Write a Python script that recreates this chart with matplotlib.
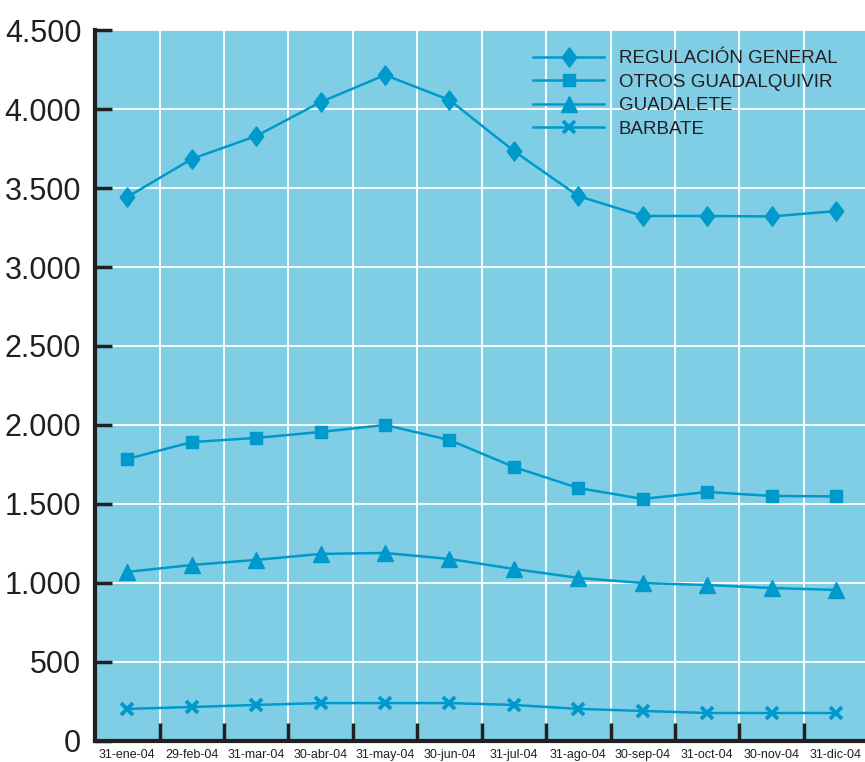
import numpy as np
import matplotlib.pyplot as plt
from matplotlib.ticker import FixedLocator, FuncFormatter

meses = ['31-ene-04', '29-feb-04', '31-mar-04', '30-abr-04', '31-may-04', '30-jun-04',
         '31-jul-04', '31-ago-04', '30-sep-04', '31-oct-04', '30-nov-04', '31-dic-04']

regulacion = [3443, 3684, 3829, 4044, 4215, 4057, 3734, 3449, 3323, 3323, 3320, 3354]
otros_guadalquivir = [1785, 1892, 1918, 1956, 2000, 1905, 1734, 1601, 1532, 1576, 1551, 1548]
guadalete = [1070, 1114, 1146, 1184, 1190, 1152, 1089, 1032, 1000, 987, 968, 956]
barbate = [203, 215, 228, 240, 240, 240, 228, 203, 190, 177, 177, 177]

plt.rcParams['font.family'] = ['Liberation Sans', 'DejaVu Sans']

azul = '#0099cc'
fondo = '#80cee6'
texto = '#231f20'

fig = plt.figure(figsize=(8.65, 7.62), dpi=100)
ax = fig.add_axes([0.110, 0.0276, 0.890, 0.933])
ax.set_facecolor(fondo)

x = np.arange(len(meses))
rombo = [(0, 1), (0.75, 0), (0, -1), (-0.75, 0), (0, 1)]

ax.plot(x, regulacion, color=azul, lw=1.8, marker=rombo, ms=14, label='REGULACIÓN GENERAL', zorder=3)
ax.plot(x, otros_guadalquivir, color=azul, lw=1.8, marker='s', ms=9, label='OTROS GUADALQUIVIR', zorder=3)
ax.plot(x, guadalete, color=azul, lw=1.8, marker='^', ms=11, label='GUADALETE', zorder=3)
ax.plot(x, barbate, color=azul, lw=1.8, marker='x', ms=9, mew=2.8, label='BARBATE', zorder=3)

ax.set_xlim(-0.5, 11.45)
ax.set_ylim(0, 4500)

# ejes
ax.set_yticks(np.arange(0, 4501, 500))
ax.yaxis.set_major_formatter(FuncFormatter(lambda v, p: f'{int(v):,}'.replace(',', '.')))
ax.tick_params(axis='y', direction='in', length=12, width=2.5, color=texto,
               labelsize=22, labelcolor=texto, pad=10)
ax.set_xticks(x)
ax.set_xticklabels(meses)
ax.xaxis.set_minor_locator(FixedLocator(np.arange(0.5, 11.5, 1)))
ax.tick_params(axis='x', which='major', length=0, labelsize=9, labelcolor=texto, pad=6)
ax.tick_params(axis='x', which='minor', direction='in', length=13, width=2.5, color=texto)

ax.grid(True, axis='y', color='white', lw=1.3, zorder=0)
ax.grid(True, axis='x', which='minor', color='white', lw=1.3, zorder=0)
ax.set_axisbelow(True)

for s in ['top', 'right']:
    ax.spines[s].set_visible(False)
for s in ['left', 'bottom']:
    ax.spines[s].set_linewidth(3)
    ax.spines[s].set_color(texto)

leg = ax.legend(loc='upper left', bbox_to_anchor=(0.552, 0.99), frameon=False,
                fontsize=13.5, handlelength=3.8, handletextpad=0.75, labelspacing=0.34,
                borderpad=0.2)
for t in leg.get_texts():
    t.set_color(texto)

plt.savefig('out.png', dpi=100)
